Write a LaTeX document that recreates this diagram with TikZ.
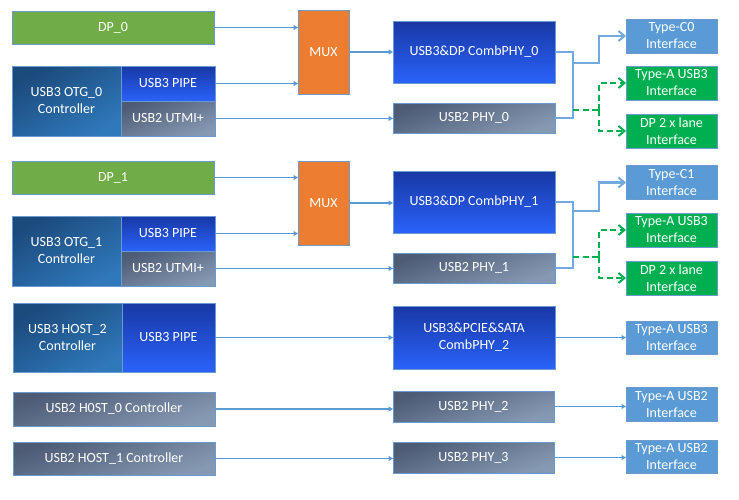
\documentclass[tikz,border=0pt]{standalone}
\usepackage{fontspec}
\setmainfont{Carlito}
\usetikzlibrary{arrows.meta}
\definecolor{bordc}{HTML}{6A9AD0}
\definecolor{dpgreen}{HTML}{70AD47}
\definecolor{muxor}{HTML}{ED7D31}
\definecolor{phytop}{HTML}{1838A4}
\definecolor{phybot}{HTML}{2A62FA}
\definecolor{ctltop}{HTML}{1B4A7C}
\definecolor{ctlbot}{HTML}{2F78BA}
\definecolor{graytop}{HTML}{4D5B75}
\definecolor{graybot}{HTML}{8699B3}
\definecolor{ifblue}{HTML}{5B9BD5}
\definecolor{ifgreen}{HTML}{00B050}
\definecolor{lnblue}{HTML}{5B9BD5}
\definecolor{jnblue}{HTML}{72A9DE}
\newcommand\lbl{\fontsize{14}{17}\selectfont}
\tikzset{
  box/.style={draw=bordc, line width=0.8pt, text=white, inner sep=0pt, outer sep=0pt, font=\lbl, align=center},
  dpbox/.style={box, fill=dpgreen},
  muxbox/.style={box, fill=muxor},
  phybox/.style={box, top color=phytop, bottom color=phybot},
  ctlbox/.style={box, top color=ctltop, bottom color=ctlbot, shading angle=30},
  graybox/.style={box, top color=graytop, bottom color=graybot, shading angle=20},
  ifbox/.style={box, fill=ifblue},
  ifgbox/.style={box, fill=ifgreen},
  conn/.style={draw=lnblue, line width=1.6pt, -{Triangle[length=4.5pt,width=5pt]}},
  jline/.style={draw=jnblue, line width=2.4pt},
  openarr/.style={-{Straight Barb[length=6pt,width=10pt,line width=2pt]}},
  gline/.style={draw=ifgreen, line width=2.2pt, dash pattern=on 6pt off 3.5pt},
}
\begin{document}
\begin{tikzpicture}[x=1pt,y=-1pt]
\useasboundingbox (0,0) rectangle (739,499);
% ---------- row 0 ----------
\node[dpbox, minimum width=202pt, minimum height=33pt] (DP0) at (113,27.5) {DP\_0};
\node[ctlbox, minimum width=109pt, minimum height=70pt] (OTG0) at (66.5,101) {USB3 OTG\_0\\Controller};
\node[phybox, minimum width=94pt, minimum height=35pt] (PIPE0) at (168,83.5) {USB3 PIPE};
\node[graybox, minimum width=94pt, minimum height=35pt] (UTMI0) at (168,118.5) {USB2 UTMI+};
\node[muxbox, minimum width=51pt, minimum height=84pt] (MUX0) at (323.5,52) {MUX};
\node[phybox, minimum width=162pt, minimum height=62pt] (CPHY0) at (474,52) {USB3\&DP CombPHY\_0};
\node[graybox, minimum width=162pt, minimum height=30pt] (U2P0) at (474,118) {USB2 PHY\_0};
\node[ifbox, minimum width=91pt, minimum height=34pt] (TC0) at (671.5,36) {Type-C0\\Interface};
\node[ifgbox, minimum width=91pt, minimum height=34pt] (TA0) at (671.5,83) {Type-A USB3\\Interface};
\node[ifgbox, minimum width=91pt, minimum height=34pt] (DPL0) at (671.5,131) {DP 2 x lane\\Interface};
% ---------- row 1 ----------
\node[dpbox, minimum width=202pt, minimum height=33pt] (DP1) at (113,177.5) {DP\_1};
\node[ctlbox, minimum width=109pt, minimum height=70pt] (OTG1) at (66.5,251) {USB3 OTG\_1\\Controller};
\node[phybox, minimum width=94pt, minimum height=35pt] (PIPE1) at (168,233.5) {USB3 PIPE};
\node[graybox, minimum width=94pt, minimum height=35pt] (UTMI1) at (168,268.5) {USB2 UTMI+};
\node[muxbox, minimum width=51pt, minimum height=84pt] (MUX1) at (323.5,203) {MUX};
\node[phybox, minimum width=162pt, minimum height=62pt] (CPHY1) at (474,202) {USB3\&DP CombPHY\_1};
\node[graybox, minimum width=162pt, minimum height=30pt] (U2P1) at (474,268) {USB2 PHY\_1};
\node[ifbox, minimum width=91pt, minimum height=34pt] (TC1) at (671.5,182.5) {Type-C1\\Interface};
\node[ifgbox, minimum width=91pt, minimum height=34pt] (TA1) at (671.5,230) {Type-A USB3\\Interface};
\node[ifgbox, minimum width=91pt, minimum height=34pt] (DPL1) at (671.5,278) {DP 2 x lane\\Interface};
% ---------- row 2 ----------
\node[ctlbox, minimum width=109pt, minimum height=69pt] (HOST2) at (67.5,337.5) {USB3 HOST\_2\\Controller};
\node[phybox, minimum width=93pt, minimum height=69pt] (PIPE2) at (168.5,337.5) {USB3 PIPE};
\node[phybox, minimum width=162pt, minimum height=63pt] (CPHY2) at (474,337.5) {USB3\&PCIE\&SATA\\CombPHY\_2};
\node[ifbox, minimum width=91pt, minimum height=33pt] (TA2) at (671.5,337.5) {Type-A USB3\\Interface};
% ---------- rows 3,4 ----------
\node[graybox, minimum width=202pt, minimum height=34pt] (HOST0) at (114,409) {USB2 H0ST\_0 Controller};
\node[graybox, minimum width=161pt, minimum height=31pt] (U2P2) at (473.5,406.5) {USB2 PHY\_2};
\node[ifbox, minimum width=91pt, minimum height=34pt] (TB0) at (671.5,404) {Type-A USB2\\Interface};
\node[graybox, minimum width=202pt, minimum height=33pt] (HOST1) at (114,458.5) {USB2 HOST\_1 Controller};
\node[graybox, minimum width=161pt, minimum height=31pt] (U2P3) at (473.5,457.5) {USB2 PHY\_3};
\node[ifbox, minimum width=91pt, minimum height=33pt] (TB1) at (671.5,456.5) {Type-A USB2\\Interface};
% ---------- straight connectors ----------
\draw[conn] (DP0.east) -- (DP0.east -| MUX0.west);
\draw[conn] (PIPE0.east) -- (PIPE0.east -| MUX0.west);
\draw[conn] (MUX0.east) -- (MUX0.east -| CPHY0.west);
\draw[conn] (UTMI0.east) -- (UTMI0.east -| U2P0.west);
\draw[conn] (DP1.east) -- (DP1.east -| MUX1.west);
\draw[conn] (PIPE1.east) -- (PIPE1.east -| MUX1.west);
\draw[conn] (MUX1.east) -- (MUX1.east -| CPHY1.west);
\draw[conn] (UTMI1.east) -- (UTMI1.east -| U2P1.west);
\draw[conn] (PIPE2.east) -- (PIPE2.east -| CPHY2.west);
\draw[conn] (CPHY2.east) -- (CPHY2.east -| TA2.west);
\draw[conn] (HOST0.east) -- (HOST0.east -| U2P2.west);
\draw[conn] (U2P2.east) -- (U2P2.east -| TB0.west);
\draw[conn] (HOST1.east) -- (HOST1.east -| U2P3.west);
\draw[conn] (U2P3.east) -- (U2P3.east -| TB1.west);
% ---------- junctions ----------
\coordinate (b0) at (573,63);
\coordinate (g0) at (573,110);
\coordinate (s0) at (599,110);
\draw[jline] (CPHY0.east) -- (CPHY0.east -| b0) -- (U2P0.east -| b0) -- (U2P0.east);
\draw[jline, openarr] (b0) -- ++(26,0) |- (TC0.west);
\draw[gline] (g0) -- (s0);
\draw[gline, openarr] (s0) |- (TA0.west);
\draw[gline, openarr] (s0) |- (DPL0.west);
\coordinate (b1) at (573,211);
\coordinate (g1) at (573,257);
\coordinate (s1) at (599,257);
\draw[jline] (CPHY1.east) -- (CPHY1.east -| b1) -- (U2P1.east -| b1) -- (U2P1.east);
\draw[jline, openarr] (b1) -- ++(26,0) |- (TC1.west);
\draw[gline] (g1) -- (s1);
\draw[gline, openarr] (s1) |- (TA1.west);
\draw[gline, openarr] (s1) |- (DPL1.west);
\end{tikzpicture}
\end{document}
